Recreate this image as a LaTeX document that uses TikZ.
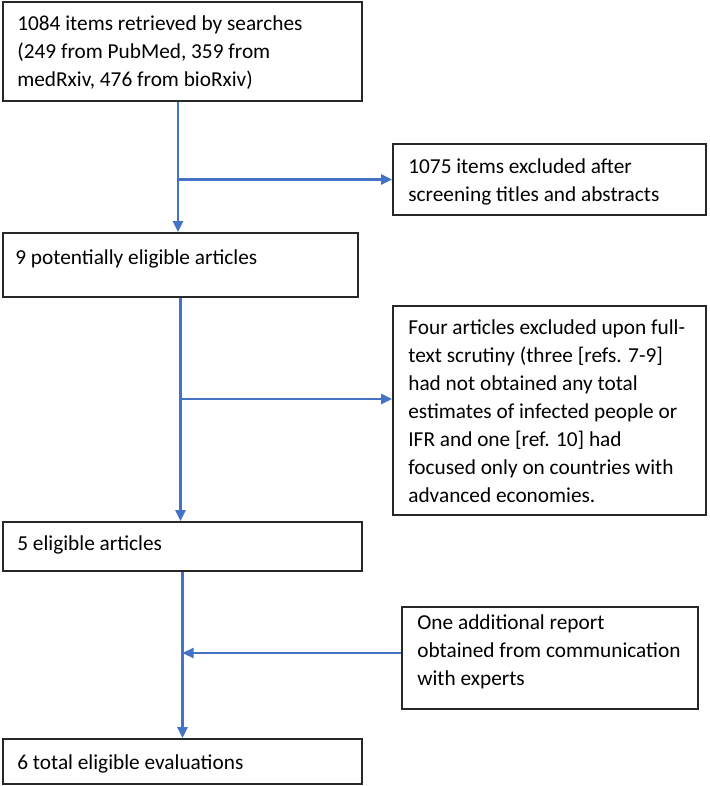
\documentclass[tikz,border=0pt]{standalone}
\usepackage{fontspec}
\setmainfont{Carlito}
\usetikzlibrary{arrows.meta,calc}
\definecolor{arrblue}{RGB}{68,114,196}
\definecolor{boxgray}{RGB}{40,40,40}
\begin{document}
\begin{tikzpicture}[x=1pt,y=-1pt,
  box/.style={draw=boxgray,line width=1.7pt,fill=white,inner sep=0pt,minimum width=#1},
  txt/.style={anchor=north west,inner sep=0pt,align=left,font=\fontsize{21.3}{28}\selectfont},
  arr/.style={draw=arrblue,line width=2.2pt,-{Triangle[length=11pt,width=10pt]}}]
\useasboundingbox[fill=white] (0,0) rectangle (709,786);
\newcommand{\fl}{\rule{0pt}{20pt}}
% boxes
\node[box=359pt,minimum height=99pt] (b1) at (182.5,51.5) {};
\node[box=313pt,minimum height=71pt] (b2) at (549.5,179.5) {};
\node[box=355pt,minimum height=64pt] (b3) at (180.5,265) {};
\node[box=313pt,minimum height=209pt] (b4) at (549.5,410.5) {};
\node[box=359pt,minimum height=49pt] (b5) at (182.5,546.5) {};
\node[box=296pt,minimum height=102pt] (b6) at (550,658) {};
\node[box=359pt,minimum height=45pt] (b7) at (182.5,761.5) {};
% texts
\node[txt] (t1) at ($(b1.north west)+(15,9)$) {\fl1084 items retrieved by searches\\(249 from PubMed, 359 from\\medRxiv, 476 from bioRxiv)};
\node[txt] (t2) at ($(b2.north west)+(16,10)$) {\fl1075 items excluded after\\screening titles and abstracts};
\node[txt] (t3) at ($(b3.north west)+(13,12)$) {\fl9 potentially eligible articles};
\node[txt] (t4) at ($(b4.north west)+(16,9)$) {\fl Four articles excluded upon full-\\text scrutiny (three [refs. 7-9]\\had not obtained any total\\estimates of infected people or\\IFR and one [ref. 10] had\\focused only on countries with\\advanced economies.};
\node[txt] (t5) at ($(b5.north west)+(15,9)$) {\fl5 eligible articles};
\node[txt] (t6) at ($(b6.north west)+(16,3)$) {\fl One additional report\\obtained from communication\\with experts};
\node[txt] (t7) at ($(b7.north west)+(15,11)$) {\fl6 total eligible evaluations};
% connectors
\coordinate (p1) at ([xshift=-4.5pt]b1.south);
\draw[arr] (p1) -- (p1 |- b3.north);
\draw[arr] (p1 |- b2.west) -- (b2.west);
\draw[arr] (b3.south) -- (b3.south |- b5.north);
\coordinate (q2) at ([yshift=11.5pt]b4.west);
\draw[arr] (b3.south |- q2) -- (q2);
\draw[arr] (b5.south) -- (b5.south |- b7.north);
\coordinate (q3) at ([yshift=5pt]b6.west);
\draw[arr] (q3) -- (b5.south |- q3);
\end{tikzpicture}
\end{document}
